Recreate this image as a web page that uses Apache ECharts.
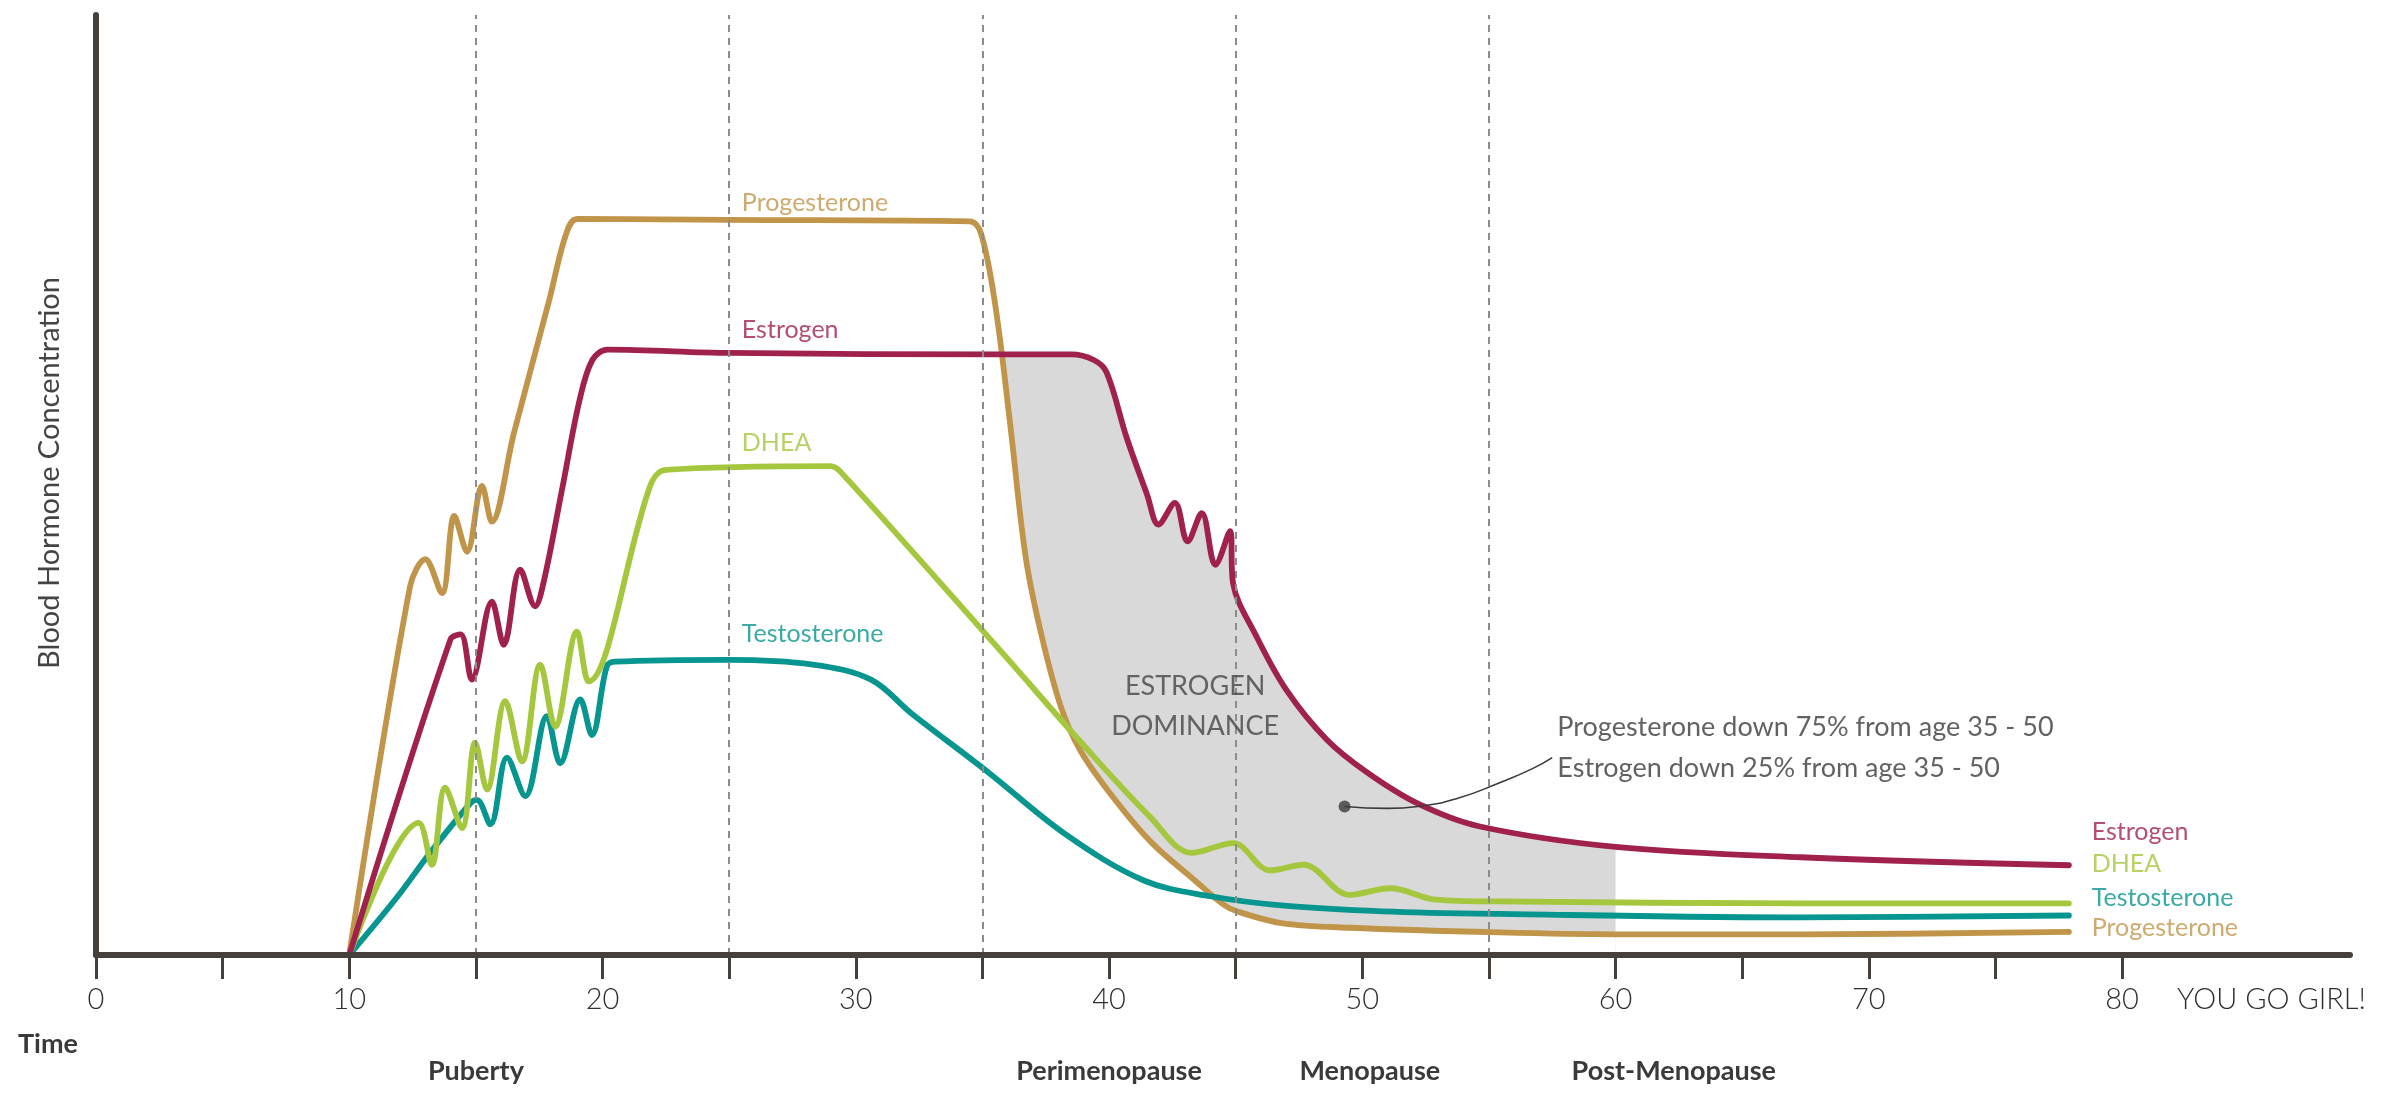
<!DOCTYPE html>
<html><head><meta charset="utf-8">
<script src="https://cdn.jsdelivr.net/npm/echarts@6/dist/echarts.min.js"></script>
<style>html,body{margin:0;padding:0;background:#fff}#c{width:2382px;height:1094px}</style>
</head><body><div id="c"></div>
<script>
// ---- data (x = age in years, y = relative concentration 0..100) ----
const progesterone = [[10,0],[12.4,39.2],[13.0,42.1],[13.66,38.5],[14.15,46.7],[14.65,42.9],[15.24,49.9],[15.63,46.1],[16.5,55.5],[17.9,69.7],[18.55,76.6],[19.0,78.3],[25,78.2],[34.5,78.05],[34.94,76.8],[35.5,69.3],[36.1,56.4],[36.7,42.5],[37.3,34.4],[38.1,26.4],[38.9,21.6],[40.3,16.3],[41.7,11.9],[43.4,7.9],[44.5,5.4],[45.05,4.65],[46.8,3.4],[49.5,2.9],[55.4,2.4],[60,2.2],[67.3,2.2],[77.9,2.45]];
const estrogen = [[10,0],[14.0,33.6],[14.4,34.1],[14.84,29.3],[15.63,37.6],[16.1,33.0],[16.75,41.0],[17.34,37.1],[17.67,39.6],[18.4,49.5],[19.1,59.1],[19.6,63.3],[20.2,64.4],[25,64.05],[35.7,63.9],[38.5,63.9],[39.4,63.3],[39.9,62.0],[40.7,55.0],[41.5,49.0],[41.95,45.8],[42.6,48.1],[43.1,44.0],[43.66,47.0],[44.2,41.5],[44.78,45.1],[44.9,39.5],[45.8,34.0],[47.0,28.2],[48.6,22.9],[50.2,19.4],[52.2,16.1],[54.6,13.7],[60,11.5],[67.3,10.4],[77.9,9.55]];
const dhea = [[10,0],[12.74,14.05],[13.26,9.6],[13.79,17.8],[14.45,13.5],[14.97,22.6],[15.44,17.6],[16.16,27.0],[16.82,20.6],[17.54,30.9],[18.13,24.3],[18.99,34.4],[19.45,29.1],[21.88,49.9],[22.5,51.6],[29.0,52.0],[29.4,51.4],[35.7,32.4],[38.9,22.6],[41.6,14.75],[43.27,10.86],[44.9,11.9],[46.36,9.0],[47.67,9.6],[49.5,6.4],[51.1,7.1],[52.9,5.9],[55.4,5.7],[67.3,5.5],[77.9,5.5]];
const testosterone = [[10,0],[11.9,6.2],[13.2,10.9],[14.8,16.2],[15.04,16.5],[15.57,13.9],[16.23,21.0],[16.95,16.9],[17.8,25.4],[18.33,20.4],[19.12,27.2],[19.58,23.4],[20.17,30.7],[20.5,31.2],[25,31.4],[28.3,30.9],[30.6,29.3],[32.2,25.7],[35.2,19.5],[38.3,12.8],[41.4,7.9],[44.0,6.25],[46.9,5.25],[50.8,4.65],[55.4,4.37],[67.3,4.0],[77.9,4.2]];
const connector = [[49.3,15.8],[51.0,15.6],[52.2,15.8],[53.8,16.7],[55.4,18.3],[56.7,19.8],[57.5,21.0]];
const connectorDot = [[49.3,15.8]];
const dominanceRange = [35.7, 60];
const phaseLines = [15, 25, 35, 45, 55];
const tickValues = [0,5,10,15,20,25,30,35,40,45,50,55,60,65,70,75,80];
const labelValues = [0,10,20,30,40,50,60,70,80,85.9];
const endText = 'YOU GO GIRL!';
const phaseNames = ['Puberty','Perimenopause','Menopause','Post-Menopause'];
const phaseAt = [15, 40, 50.3, 62.3];
const seriesNames = ['Progesterone','Estrogen','DHEA','Testosterone'];
const inlineLabelAt = [[25.5,80.0],[25.5,66.5],[25.5,54.5],[25.5,34.2]];
const endLabelNames = ['Estrogen','DHEA','Testosterone','Progesterone'];
const endLabelAt = [[78.8,13.1],[78.8,9.7],[78.8,6.1],[78.8,2.9]];
const dominanceText = 'ESTROGEN\nDOMINANCE';
const dominanceAt = [43.4, 26.5];
const noteText = 'Progesterone down 75% from age 35 - 50\nEstrogen down 25% from age 35 - 50';
const noteAt = [57.7, 22.05];

// ---- styles ----
const COL = {Progesterone:'#C0954A', Estrogen:'#A0214D', DHEA:'#A4C73D', Testosterone:'#07958F'};
const AXIS = '#45403C', TEXT = '#3A3A3A', FILL = '#D9D9D9', DASH = '#8C8C8C';
const FONT = 'Lato, "Open Sans", sans-serif';
const S = 0.35;

const chart = echarts.init(document.getElementById('c'), null, {renderer:'canvas'});
const inRange = (arr, a, b) => arr.filter(p => p[0] >= a && p[0] <= b);

function lineSeries(name, data, z) {
  return {type:'line', name, data, smooth:S, symbol:'none', z,
    lineStyle:{width:5.8, color:COL[name], cap:'round', join:'round'}, silent:true};
}

const labelData = [];
seriesNames.forEach((n,i)=>labelData.push({name:n, value:inlineLabelAt[i], label:{color:COL[n]}}));
endLabelNames.forEach((n,i)=>labelData.push({name:n, value:endLabelAt[i], label:{color:COL[n]}}));

chart.setOption({
  animation:false,
  backgroundColor:'#fff',
  grid:{left:96, right:32, top:15, bottom:139, containLabel:false},
  xAxis:[{
    type:'value', min:0, max:89, z:10,
    axisLine:{show:true, lineStyle:{color:AXIS, width:6, cap:'round'}},
    axisTick:{show:true, customValues:tickValues, length:24, lineStyle:{color:AXIS, width:3}},
    axisLabel:{customValues:labelValues, margin:30, fontSize:29, fontFamily:FONT, fontWeight:300, color:'#2E2E2E',
      formatter:v => (v > 82 ? endText : String(v))},
    splitLine:{show:false}
  },{
    type:'value', min:0, max:89, position:'bottom',
    axisLine:{show:false}, axisTick:{show:false}, splitLine:{show:false},
    axisLabel:{customValues:phaseAt, margin:103, fontSize:27, fontFamily:FONT, fontWeight:'bold', color:'#3A3A3A',
      formatter:v => phaseNames[phaseAt.indexOf(v)] || ''}
  }],
  yAxis:{
    type:'value', min:0, max:100,
    axisLine:{show:true, lineStyle:{color:AXIS, width:6, cap:'round'}},
    axisTick:{show:false}, axisLabel:{show:false}, splitLine:{show:false},
    name:'Blood Hormone Concentration', nameLocation:'middle', nameGap:32,
    nameTextStyle:{fontSize:29, fontFamily:FONT, fontWeight:400, color:'#444', padding:[0,0,0,24]}
  },
  graphic:[{type:'text', left:18, top:1031, style:{text:'Time', font:'bold 27px Lato', fill:'#3A3A3A'}}],
  series:[
    {type:'line', data:inRange(estrogen, dominanceRange[0], dominanceRange[1]), smooth:S, symbol:'none', z:1,
      lineStyle:{width:0}, areaStyle:{color:FILL, opacity:1}, silent:true},
    {type:'line', data:inRange(progesterone, 35.5, dominanceRange[1]), smooth:S, symbol:'none', z:2,
      lineStyle:{width:0}, areaStyle:{color:'#ffffff', opacity:1}, silent:true},
    {type:'line', data:[], z:3, silent:true,
      markLine:{silent:true, symbol:['none','none'], label:{show:false},
        lineStyle:{type:[7,6], color:DASH, width:2},
        data:phaseLines.map(v => ({xAxis:v}))}},
    lineSeries('Progesterone', progesterone, 4),
    lineSeries('Testosterone', testosterone, 4),
    lineSeries('DHEA', dhea, 4),
    lineSeries('Estrogen', estrogen, 4),
    {type:'line', data:connector, smooth:0.5, symbol:'none', z:5, silent:true,
      lineStyle:{width:1.6, color:'#3A3A3A'}},
    {type:'scatter', data:connectorDot, symbolSize:12, z:6, silent:true, itemStyle:{color:'#3A3A3A'}},
    {type:'scatter', data:labelData, symbolSize:0.1, z:6, silent:true, itemStyle:{color:'transparent'},
      label:{show:true, position:'right', distance:0, formatter:p=>p.name, fontSize:25, fontFamily:FONT, verticalAlign:'middle'}},
    {type:'scatter', data:[{value:dominanceAt}], symbolSize:0.1, z:6, silent:true, itemStyle:{color:'transparent'},
      label:{show:true, position:'inside', formatter:dominanceText, fontSize:27, lineHeight:40, fontFamily:FONT, fontWeight:400,
        color:'#444', align:'center', verticalAlign:'middle'}},
    {type:'scatter', data:[{value:noteAt}], symbolSize:0.1, z:6, silent:true, itemStyle:{color:'transparent'},
      label:{show:true, position:'right', distance:0, formatter:noteText, fontSize:27, lineHeight:41, fontFamily:FONT,
        color:TEXT, align:'left', verticalAlign:'middle'}}
  ]
});
</script></body></html>
